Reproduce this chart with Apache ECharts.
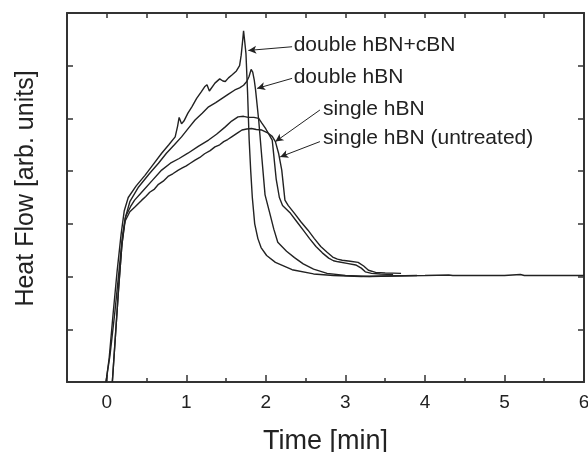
<!DOCTYPE html>
<html>
<head>
<meta charset="utf-8">
<script src="https://cdn.jsdelivr.net/npm/echarts@6/dist/echarts.min.js"></script>
<style>
html,body{margin:0;padding:0;background:#fff;}
#chart{width:588px;height:452px;}
</style>
</head>
<body>
<div id="chart"></div>
<script>
// ---- data (time in min, heat flow in arb. units) ----
var xTickLabels = [0, 1, 2, 3, 4, 5, 6];
var xMinorTicks = [-0.5, 0.5, 1.5, 2.5, 3.5, 4.5, 5.5];
var xTopTicks = [0, 0.5, 1, 1.5, 2, 2.5, 3, 3.5, 4, 4.5, 5, 5.5];
var yTicks = [1, 2, 3, 4, 5, 6];

var doubleCBN = [
  [-0.01,0],[0.03,0.45],[0.08,1.3],[0.13,2.1],[0.18,2.8],[0.22,3.25],[0.27,3.5],[0.37,3.72],
  [0.48,3.92],[0.58,4.12],[0.69,4.34],[0.78,4.5],[0.86,4.65],[0.89,4.85],[0.91,5.02],[0.94,4.9],
  [0.97,4.95],[1.02,5.1],[1.07,5.22],[1.13,5.38],[1.19,5.51],[1.23,5.6],[1.26,5.64],[1.29,5.52],
  [1.31,5.55],[1.36,5.67],[1.42,5.75],[1.46,5.71],[1.49,5.7],[1.53,5.77],[1.57,5.82],[1.63,5.9],
  [1.67,6.0],[1.69,6.2],[1.71,6.5],[1.72,6.66],[1.735,6.45],[1.75,6.23],[1.77,5.5],[1.79,4.6],
  [1.81,4.0],[1.83,3.5],[1.86,3.0],[1.9,2.72],[1.94,2.55],[2.01,2.4],[2.12,2.27],[2.33,2.13],
  [2.6,2.05],[2.85,2.02],[3.2,2.0],[3.5,2.01],[4.0,2.02],[4.3,2.03],[4.35,2.02],[5.0,2.02],
  [5.2,2.04],[5.25,2.02],[6.0,2.02]
];
var doubleHBN = [
  [0.07,0],[0.11,0.9],[0.15,1.8],[0.19,2.6],[0.23,3.1],[0.29,3.42],[0.4,3.7],[0.54,3.96],
  [0.65,4.15],[0.75,4.34],[0.85,4.5],[0.94,4.65],[1.03,4.82],[1.11,4.97],[1.2,5.1],[1.28,5.22],
  [1.37,5.3],[1.45,5.38],[1.53,5.46],[1.61,5.54],[1.67,5.58],[1.72,5.63],[1.76,5.7],[1.79,5.8],
  [1.815,5.93],[1.835,5.88],[1.855,5.72],[1.87,5.55],[1.91,4.97],[1.95,4.25],[1.99,3.55],
  [2.05,3.2],[2.1,2.9],[2.15,2.65],[2.26,2.48],[2.36,2.36],[2.47,2.24],[2.6,2.14],[2.77,2.06],
  [3.0,2.02],[3.3,2.0],[3.6,2.01],[3.9,2.02]
];
var singleHBN = [
  [-0.01,0],[0.04,0.5],[0.1,1.3],[0.16,2.2],[0.2,2.8],[0.24,3.15],[0.3,3.33],[0.35,3.45],
  [0.45,3.62],[0.57,3.82],[0.69,4.02],[0.8,4.15],[0.91,4.24],[1.02,4.34],[1.15,4.47],[1.28,4.59],
  [1.38,4.7],[1.49,4.84],[1.57,4.95],[1.65,5.03],[1.72,5.04],[1.78,5.02],[1.85,5.02],[1.91,5.0],
  [1.95,4.91],[2.0,4.8],[2.03,4.72],[2.08,4.59],[2.1,4.3],[2.13,3.85],[2.17,3.5],[2.21,3.35],
  [2.31,3.2],[2.39,3.04],[2.47,2.88],[2.55,2.72],[2.63,2.57],[2.71,2.45],[2.79,2.35],[2.85,2.3],
  [2.91,2.28],[3.02,2.25],[3.13,2.22],[3.2,2.16],[3.25,2.09],[3.33,2.06],[3.44,2.05],[3.6,2.04]
];
var singleUntreated = [
  [0.07,0],[0.11,0.9],[0.15,1.8],[0.19,2.6],[0.23,3.05],[0.29,3.23],[0.36,3.33],[0.44,3.45],
  [0.49,3.52],[0.54,3.6],[0.6,3.66],[0.65,3.75],[0.71,3.81],[0.77,3.9],[0.83,3.95],[0.9,4.02],
  [0.95,4.06],[1.0,4.1],[1.05,4.15],[1.11,4.21],[1.17,4.26],[1.23,4.33],[1.3,4.39],[1.36,4.46],
  [1.42,4.5],[1.47,4.56],[1.52,4.6],[1.57,4.65],[1.65,4.73],[1.7,4.78],[1.76,4.8],[1.82,4.81],
  [1.88,4.79],[1.95,4.78],[2.03,4.72],[2.08,4.66],[2.12,4.56],[2.16,4.34],[2.2,4.02],[2.24,3.45],
  [2.28,3.35],[2.36,3.2],[2.44,3.04],[2.53,2.88],[2.61,2.72],[2.69,2.57],[2.77,2.46],[2.84,2.37],
  [2.9,2.33],[2.96,2.31],[3.06,2.29],[3.16,2.27],[3.23,2.2],[3.29,2.12],[3.38,2.08],[3.5,2.07],[3.7,2.06]
];

// annotations: label text, text anchor (data coords), arrow start, arrow end (data coords)
var labelNames = ['double hBN+cBN', 'double hBN', 'single hBN', 'single hBN (untreated)'];
var labelAnchors = [[2.35, 6.39], [2.35, 5.79], [2.72, 5.18], [2.72, 4.63]];
var arrowStarts = [[2.33, 6.36], [2.33, 5.76], [2.68, 5.16], [2.68, 4.56]];
var arrowEnds = [[1.78, 6.29], [1.89, 5.57], [2.12, 4.56], [2.18, 4.27]];

var FONT = 'Liberation Sans, Arial, Helvetica, sans-serif';
var INK = '#222';
var chart = echarts.init(document.getElementById('chart'), null, {renderer: 'canvas'});

function lineSeries(name, data) {
  return {
    name: name, type: 'line', data: data, showSymbol: false, symbol: 'none',
    xAxisIndex: 0, yAxisIndex: 0,
    lineStyle: {color: INK, width: 1.4}, smooth: false, clip: true, silent: true
  };
}

var arrowData = arrowStarts.map(function (s, i) {
  return [{coord: s}, {coord: arrowEnds[i]}];
});

var series = [
  lineSeries('double hBN+cBN', doubleCBN),
  lineSeries('double hBN', doubleHBN),
  lineSeries('single hBN', singleHBN),
  lineSeries('single hBN (untreated)', singleUntreated)
];
series[0].markLine = {
  silent: true, animation: false,
  symbol: ['none', 'arrow'], symbolSize: [6, 8],
  label: {show: false},
  lineStyle: {color: INK, width: 1, type: 'solid'},
  data: arrowData
};

var axisLineStyle = {show: true, onZero: false, lineStyle: {color: '#333', width: 2}};

chart.setOption({
  animation: false,
  backgroundColor: '#fff',
  grid: {left: 67, right: 4, top: 13, bottom: 70, containLabel: false, outerBoundsMode: 'none'},
  xAxis: [
    {
      type: 'value', position: 'bottom', min: -0.5, max: 6, interval: 0.5,
      axisLine: axisLineStyle,
      axisTick: {show: true, inside: true, length: 7, customValues: xTickLabels, lineStyle: {color: '#333', width: 1.5}},
      axisLabel: {show: true, customValues: xTickLabels, fontSize: 19, color: INK, fontFamily: FONT, margin: 11},
      splitLine: {show: false},
      name: 'Time [min]', nameLocation: 'middle', nameGap: 46,
      nameTextStyle: {fontSize: 27, color: INK, fontFamily: FONT}
    },
    {
      type: 'value', position: 'bottom', min: -0.5, max: 6, interval: 0.5,
      axisLine: {show: false, onZero: false},
      axisTick: {show: true, inside: true, length: 4, customValues: xMinorTicks, lineStyle: {color: '#333', width: 1.5}},
      axisLabel: {show: false}, splitLine: {show: false}
    },
    {
      type: 'value', position: 'top', min: -0.5, max: 6, interval: 0.5,
      axisLine: axisLineStyle,
      axisTick: {show: true, inside: true, length: 5, customValues: xTopTicks, lineStyle: {color: '#333', width: 1.5}},
      axisLabel: {show: false}, splitLine: {show: false}
    }
  ],
  yAxis: [
    {
      type: 'value', position: 'left', min: 0, max: 7, interval: 1,
      axisLine: axisLineStyle,
      axisTick: {show: true, inside: true, length: 6, customValues: yTicks, lineStyle: {color: '#333', width: 1.5}},
      axisLabel: {show: false}, splitLine: {show: false},
      name: 'Heat Flow [arb. units]', nameLocation: 'middle', nameGap: 28, nameRotate: 90,
      nameTextStyle: {fontSize: 25, color: INK, fontFamily: FONT, padding: [0, 0, 0, 18]}
    },
    {
      type: 'value', position: 'right', min: 0, max: 7, interval: 1,
      axisLine: axisLineStyle,
      axisTick: {show: true, inside: true, length: 6, customValues: yTicks, lineStyle: {color: '#333', width: 1.5}},
      axisLabel: {show: false}, splitLine: {show: false}
    }
  ],
  series: series
});

// text labels placed through the axes' own scales
var texts = labelNames.map(function (t, i) {
  var p = chart.convertToPixel({xAxisIndex: 0, yAxisIndex: 0}, labelAnchors[i]);
  return {
    type: 'text', x: p[0], y: p[1], silent: true,
    style: {text: t, fontSize: 21, fontFamily: FONT, fill: INK, align: 'left', verticalAlign: 'middle'}
  };
});
chart.setOption({graphic: {elements: texts}});
</script>
</body>
</html>
